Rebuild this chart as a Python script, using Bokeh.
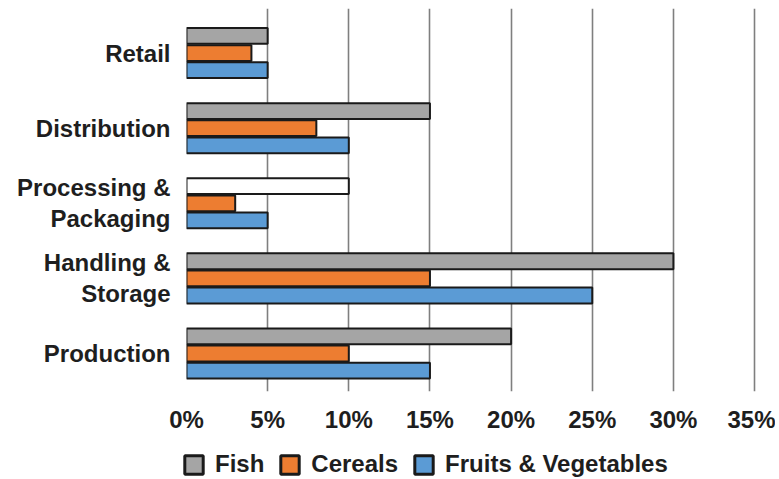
from bokeh.plotting import figure
from bokeh.layouts import column
from bokeh.models import (ColumnDataSource, Range1d, Legend, LegendItem,
                          FixedTicker, PrintfTickFormatter)
from bokeh.embed import file_html
from bokeh.resources import INLINE

# ---- data (top to bottom as in the chart) ----
stages = ["Retail", "Distribution", "Processing &\nPackaging", "Handling &\nStorage", "Production"]
fish = [5, 15, 10, 30, 20]
cereals = [4, 8, 3, 15, 10]
fruits_veg = [5, 10, 5, 25, 15]
x_ticks = [0, 5, 10, 15, 20, 25, 30, 35]

FISH_C = "#a5a5a5"
CER_C = "#ed7d31"
FV_C = "#5b9bd5"
EDGE = "#1a1a1a"
FONT = "Liberation Sans"
TXT = "#1e1e1e"

n = len(stages)
ypos = [n - 1 - i for i in range(n)]          # Retail on top
fish_fill = [("white" if s.startswith("Processing") else FISH_C) for s in stages]
step = 0.228
src = ColumnDataSource(dict(
    y=ypos, fish=fish, cereals=cereals, fv=fruits_veg, fish_fill=fish_fill,
    y_fish=[v + step for v in ypos], y_fv=[v - step for v in ypos]))

p = figure(frame_width=589, frame_height=383,
           x_range=Range1d(0, 589 / 16.23), y_range=Range1d(-0.506, 4.593),
           output_backend="svg", toolbar_location=None,
           min_border_left=186, min_border_right=0, min_border_top=8, min_border_bottom=39)
p.frame_align = False
p.outline_line_color = None
p.ygrid.grid_line_color = None
p.xgrid.ticker = FixedTicker(ticks=x_ticks)
p.xgrid.grid_line_color = "#7f7f7f"
p.xgrid.grid_line_width = 1.6

bh = 0.21
lw = 2
r_fish = p.hbar(y="y_fish", left=0, right="fish", height=bh, source=src,
                fill_color="fish_fill", line_color=EDGE, line_width=lw)
r_cer = p.hbar(y="y", left=0, right="cereals", height=bh, source=src,
               fill_color=CER_C, line_color=EDGE, line_width=lw)
r_fv = p.hbar(y="y_fv", left=0, right="fv", height=bh, source=src,
              fill_color=FV_C, line_color=EDGE, line_width=lw)

for ax in (p.xaxis[0], p.yaxis[0]):
    ax.axis_line_color = None
    ax.major_tick_line_color = None
    ax.minor_tick_line_color = None
    ax.major_label_text_font = FONT
    ax.major_label_text_font_style = "bold"
    ax.major_label_text_font_size = "24px"
    ax.major_label_text_color = TXT

p.xaxis.ticker = FixedTicker(ticks=x_ticks)
p.xaxis.formatter = PrintfTickFormatter(format="%d%%")
p.xaxis.major_label_standoff = 8
p.yaxis.ticker = FixedTicker(ticks=ypos)
p.yaxis.major_label_overrides = {y: s for y, s in zip(ypos, stages)}
p.yaxis.major_label_standoff = 10
p.yaxis.major_label_text_line_height = 1.15

# ---- legend strip below the chart (swatches only; kept outside the visible range) ----
lg = figure(width=775, height=47, x_range=Range1d(0, 1), y_range=Range1d(0, 1),
            output_backend="svg", toolbar_location=None,
            x_axis_location=None, y_axis_location=None,
            min_border=0, min_border_left=0, min_border_right=0,
            min_border_top=0, min_border_bottom=0)
lg.frame_align = False
lg.outline_line_color = None
lg.grid.grid_line_color = None
swatch = ColumnDataSource(dict(y=[-5], right=[0]))
l_fish = lg.hbar(y="y", right="right", left=0, height=0.1, source=swatch,
                 fill_color=FISH_C, line_color=EDGE, line_width=3)
l_cer = lg.hbar(y="y", right="right", left=0, height=0.1, source=swatch,
                fill_color=CER_C, line_color=EDGE, line_width=3)
l_fv = lg.hbar(y="y", right="right", left=0, height=0.1, source=swatch,
               fill_color=FV_C, line_color=EDGE, line_width=3)
legend = Legend(items=[LegendItem(label="Fish", renderers=[l_fish]),
                       LegendItem(label="Cereals", renderers=[l_cer]),
                       LegendItem(label="Fruits & Vegetables", renderers=[l_fv])],
                orientation="horizontal", location=(182, 4),
                label_text_font=FONT, label_text_font_style="bold",
                label_text_font_size="24px", label_text_color=TXT,
                glyph_width=23, glyph_height=23, label_standoff=10, spacing=14,
                border_line_color=None, background_fill_alpha=0,
                padding=0, margin=0)
lg.add_layout(legend, "center")

layout = column(p, lg, spacing=0)
open("out.html", "w").write(file_html(layout, INLINE))
